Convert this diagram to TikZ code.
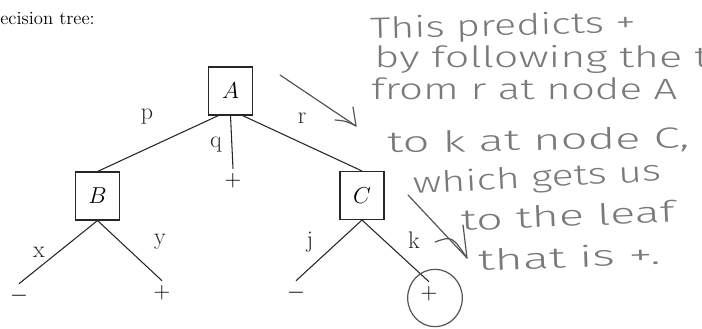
\documentclass[tikz,border=0pt]{standalone}
\usepackage{amsmath}
\usepackage{amssymb}
\usepackage{fontspec}
\usepackage{tikz}
\IfFontExistsTF{Fira Sans Light}
  {\newfontfamily\pencilhand[FakeStretch=1.35]{Fira Sans Light}}
  {\newfontfamily\pencilhand[FakeStretch=1.35]{Liberation Sans}}
\definecolor{dtInk}{HTML}{262626}
\definecolor{dtPencil}{HTML}{7A7A7A}
\definecolor{dtLead}{HTML}{555555}

\begin{document}
\begin{tikzpicture}[x=0.75pt,y=-0.75pt,
  testbox/.style={draw=dtInk,line width=0.8pt,minimum width=33pt,minimum height=36pt,inner sep=0pt,font=\fontsize{17}{20}\selectfont},
  leaf/.style={inner sep=0pt,minimum height=18pt,font=\fontsize{17}{20}\selectfont},
  branch/.style={inner sep=0pt,text=dtInk,font=\fontsize{18}{20}\selectfont},
  edge/.style={dtInk,line width=0.8pt},
  hand/.style={anchor=base west,inner sep=0pt,text=dtPencil,font=\pencilhand\fontsize{22}{26}\selectfont},
  pencil/.style={dtLead,line width=0.9pt,line cap=round,line join=round}]
\useasboundingbox (0,0) rectangle (702,328);
\node[anchor=base west,inner sep=0pt,font=\fontsize{14}{16}\selectfont] (caption) at (0,25) {ecision tree:};
\node[testbox] (A) at (230.5,91) {$A$};
\node[testbox] (B) at (97.5,196) {$B$};
\node[testbox] (C) at (362,195.5) {$C$};
\node[leaf] (qleaf) at (233,181) {$+$};
\node[leaf] (xleaf) at (19,296) {$-$};
\node[leaf] (yleaf) at (162,293) {$+$};
\node[leaf] (jleaf) at (296,293) {$-$};
\node[leaf] (kleaf) at (429,294) {$+$};
\draw[edge] ([xshift=-9pt]A.south) -- (B.north);
\draw[edge] (A.south) -- (qleaf.north);
\draw[edge] ([xshift=9pt]A.south) -- (C.north);
\draw[edge] (B.south) -- (xleaf.north);
\draw[edge] (B.south) -- (yleaf.north);
\draw[edge] (C.south) -- (jleaf.north);
\draw[edge] (C.south) -- (kleaf.north);
\node[branch] (p) at (147,117) {p};
\node[branch] (q) at (216,145) {q};
\node[branch] (r) at (302,118) {r};
\node[branch] (x) at (39,252) {x};
\node[branch] (y) at (160,242) {y};
\node[branch] (j) at (310,242) {j};
\node[branch] (k) at (414,240) {k};
\draw[pencil] ([xshift=4.5pt,yshift=-3pt]kleaf.center) ellipse (20.5pt and 21.5pt);
\node[hand,rotate=1.5,xscale=1.04] (note1) at (370,39) {This predicts +};
\node[hand,xscale=1.09] (note2) at (374,67) {by following the tree};
\node[hand,xscale=1.06] (note3) at (371,99) {from r at node A};
\node[hand,rotate=1,xscale=1.19] (note4) at (387,153) {to k at node C,};
\node[hand,rotate=3,xscale=1.04] (note5) at (413,194) {which gets us};
\node[hand,rotate=2.5,xscale=1.18] (note6) at (461,231) {to the leaf};
\node[hand,rotate=2,xscale=1.23] (note7) at (478,271) {that is +.};
\coordinate (tail1) at (280,75);
\coordinate (tip1) at (356,126);
\coordinate (tail2) at (408,195);
\coordinate (tip2) at (467,258);
\draw[pencil] (tail1) -- (tip1);
\draw[pencil] (335,120) .. controls (346,121) .. (tip1) .. controls (355,117) .. (353,107);
\draw[pencil] (tail2) -- (tip2);
\draw[pencil] (435,242) .. controls (452,236) .. (tip2) -- (463,225);
\end{tikzpicture}
\end{document}
